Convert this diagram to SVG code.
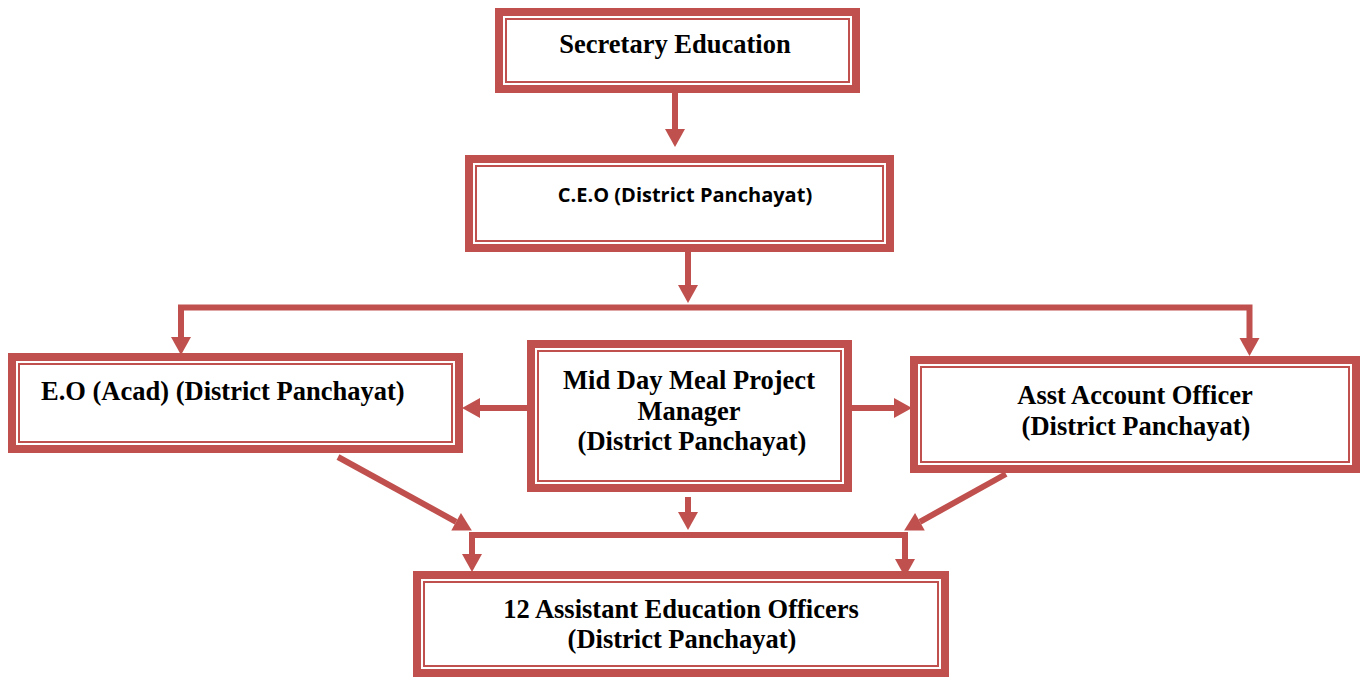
<svg xmlns="http://www.w3.org/2000/svg" width="1360" height="677" viewBox="0 0 1360 677">
<style>
.outer{fill:#fff;stroke:#C0504D;stroke-width:8}
.inner{fill:none;stroke:#C0504D;stroke-width:2}
.t{font-family:"Liberation Serif","Times New Roman",serif;font-weight:bold;font-size:26.5px;fill:#000}
.s{font-family:"Open Sans","Noto Sans",sans-serif;font-weight:bold;font-size:20px;fill:#000}
.c{fill:none;stroke:#C0504D;stroke-width:6;stroke-linejoin:miter;stroke-linecap:butt}
</style>
<defs>
<marker id="ah" markerUnits="userSpaceOnUse" markerWidth="18" markerHeight="20" refX="0" refY="10" orient="auto" overflow="visible">
<path d="M0,0 L18,10 L0,20 Z" fill="#C0504D"/>
</marker>
</defs>
<rect width="1360" height="677" fill="#fff"/>

<g id="connectors">
<path class="c" d="M675,93 V129" marker-end="url(#ah)"/>
<path class="c" d="M688,252 V285" marker-end="url(#ah)"/>
<path class="c" d="M688,307.5 H181 V337" marker-end="url(#ah)"/>
<path class="c" d="M688,307.5 H1249.5 V338" marker-end="url(#ah)"/>
<path class="c" d="M527,408 H480" marker-end="url(#ah)"/>
<path class="c" d="M852,408 H894" marker-end="url(#ah)"/>
<path class="c" d="M338,457 L456.1,521.8" marker-end="url(#ah)"/>
<path class="c" d="M1006,474 L919.9,521.8" marker-end="url(#ah)"/>
<path class="c" d="M688,497 V512" marker-end="url(#ah)"/>
<path class="c" d="M688,535 H472 V554" marker-end="url(#ah)"/>
<path class="c" d="M688,535 H905 V559" marker-end="url(#ah)"/>
</g>

<g id="secretary">
<rect class="outer" x="499" y="12" width="357" height="77"/>
<rect class="inner" x="506" y="19" width="343" height="63"/>
<text class="t" x="675" y="53" text-anchor="middle">Secretary Education</text>
</g>

<g id="ceo">
<rect class="outer" x="469" y="159" width="421" height="89"/>
<rect class="inner" x="476" y="166" width="407" height="75"/>
<text class="s" x="685" y="202" text-anchor="middle">C.E.O (District Panchayat)</text>
</g>

<g id="eo">
<rect class="outer" x="12" y="357" width="447" height="92"/>
<rect class="inner" x="19" y="364" width="433" height="78"/>
<text class="t" x="41" y="400">E.O (Acad) (District Panchayat)</text>
</g>

<g id="mdm">
<rect class="outer" x="531" y="344" width="317" height="144"/>
<rect class="inner" x="538" y="351" width="303" height="130"/>
<text class="t" text-anchor="middle"><tspan x="689" y="389">Mid Day Meal Project</tspan><tspan x="689" y="419.5">Manager</tspan><tspan x="692" y="450">(District Panchayat)</tspan></text>
</g>

<g id="aao">
<rect class="outer" x="914" y="360" width="442" height="109"/>
<rect class="inner" x="921" y="367" width="428" height="95"/>
<text class="t" text-anchor="middle"><tspan x="1135" y="404">Asst Account Officer</tspan><tspan x="1136" y="435">(District Panchayat)</tspan></text>
</g>

<g id="aeo">
<rect class="outer" x="417" y="575" width="528" height="98"/>
<rect class="inner" x="424" y="582" width="514" height="84"/>
<text class="t" text-anchor="middle"><tspan x="681" y="618">12 Assistant Education Officers</tspan><tspan x="682" y="648">(District Panchayat)</tspan></text>
</g>
</svg>
